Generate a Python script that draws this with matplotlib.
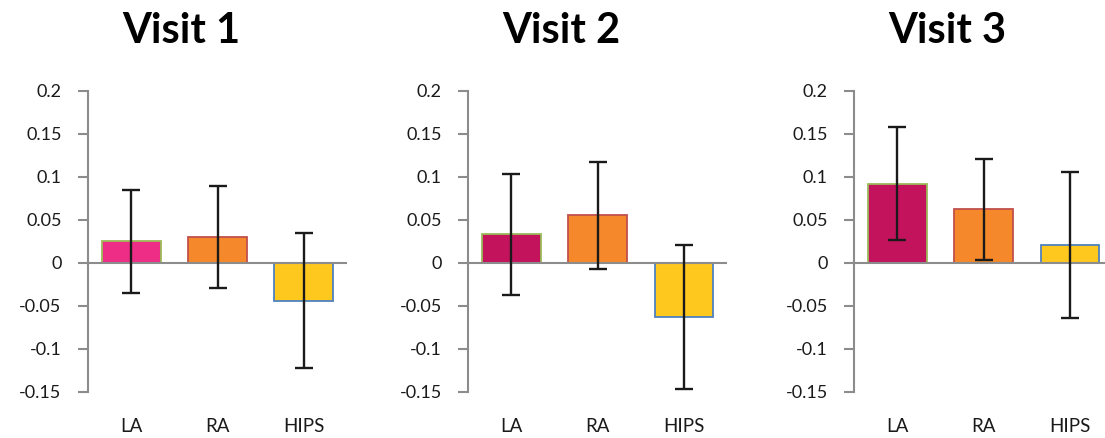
import matplotlib
matplotlib.use("Agg")
import matplotlib.pyplot as plt

plt.rcParams['font.family'] = ['Lato', 'DejaVu Sans']

regions = ["LA", "RA", "HIPS"]
visits = ["Visit 1", "Visit 2", "Visit 3"]

# mean change per region, one list per visit
visit1_means = [0.025, 0.030, -0.044]
visit2_means = [0.033, 0.055, -0.063]
visit3_means = [0.092, 0.062, 0.021]

# error bar half-widths
visit1_err = [0.060, 0.059, 0.078]
visit2_err = [0.070, 0.062, 0.084]
visit3_err = [0.066, 0.059, 0.085]

yticks = [0.2, 0.15, 0.1, 0.05, 0, -0.05, -0.1, -0.15]
ytick_labels = ["0.2", "0.15", "0.1", "0.05", "0", "-0.05", "-0.1", "-0.15"]

fills = [
    ["#EE2D87", "#F5882A", "#FFC81F"],
    ["#C2135C", "#F5882A", "#FFC81F"],
    ["#C2135C", "#F5882A", "#FFC81F"],
]
edges = ["#9BBB59", "#C0504D", "#4F81BD"]

means = [visit1_means, visit2_means, visit3_means]
errs = [visit1_err, visit2_err, visit3_err]

W, H = 1105, 438
fig = plt.figure(figsize=(W / 100, H / 100), dpi=100)

lefts = [88, 468.3, 854.3]
title_x = [181, 561, 947]
ax_w = 259
ax_top, ax_bot = 90.7, 391.7

for i in range(3):
    ax = fig.add_axes([lefts[i] / W, (H - ax_bot) / H, ax_w / W, (ax_bot - ax_top) / H])
    x = list(range(len(regions)))
    ax.bar(x, means[i], width=0.68, color=fills[i], edgecolor=edges,
           linewidth=1.3, zorder=2)
    ax.errorbar(x, means[i], yerr=errs[i], fmt='none', ecolor='#1a1a1a',
                elinewidth=1.7, capsize=6.5, capthick=1.7, zorder=4)
    ax.axhline(0, color='#8c8c8c', linewidth=1.5, zorder=3)
    ax.set_xlim(-0.5, 2.5)
    ax.set_ylim(-0.15, 0.2)
    ax.set_yticks(yticks)
    ax.set_yticklabels(ytick_labels)
    ax.set_xticks(x)
    ax.set_xticklabels(regions)
    ax.tick_params(axis='y', length=7, width=1.5, color='#8c8c8c', pad=12,
                   labelsize=13, labelcolor='#1a1a1a')
    ax.tick_params(axis='x', length=0, pad=19, labelsize=13.5, labelcolor='#1a1a1a')
    for s in ['top', 'right', 'bottom']:
        ax.spines[s].set_visible(False)
    ax.spines['left'].set_color('#8c8c8c')
    ax.spines['left'].set_linewidth(1.5)
    ax.patch.set_visible(False)
    fig.text(title_x[i] / W, 1 - 43 / H, visits[i], ha='center', va='baseline',
             fontsize=30, fontweight='bold', color='black')

fig.savefig("out.png", dpi=100)
